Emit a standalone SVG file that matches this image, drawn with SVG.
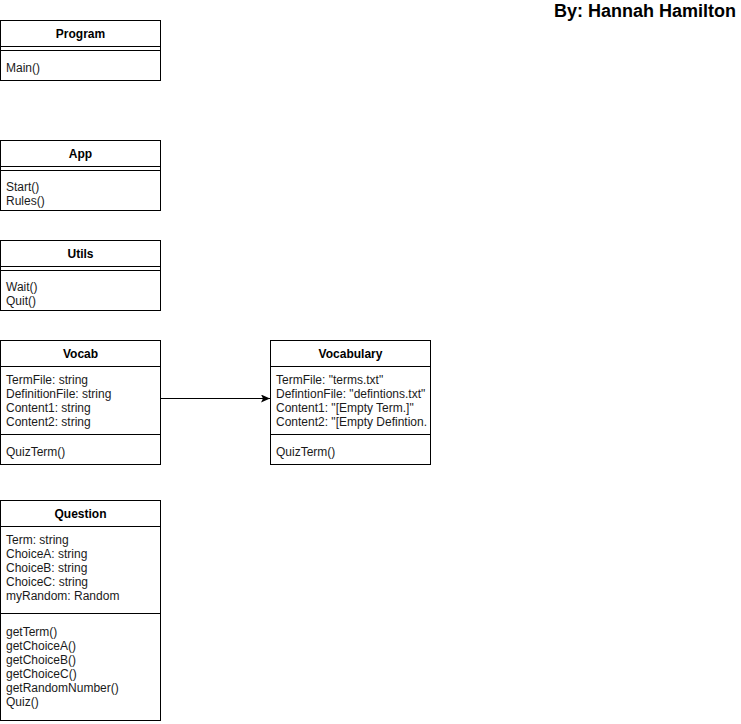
<svg xmlns="http://www.w3.org/2000/svg" width="741" height="724" viewBox="0 0 741 724">
<defs>
<style>
.box{fill:#fff;stroke:#000;stroke-width:1}
.ln{stroke:#000;stroke-width:1;fill:none}
.t{font-family:"Liberation Sans",Arial,sans-serif;font-size:12px;font-weight:bold;fill:#000;text-anchor:middle}
.m{font-family:"Liberation Sans",Arial,sans-serif;font-size:12px;fill:#1a1a1a}
.h{font-family:"Liberation Sans",Arial,sans-serif;font-size:18px;font-weight:bold;fill:#000;text-anchor:end}
</style>
<marker id="arr" markerWidth="10" markerHeight="8" refX="9" refY="4" orient="auto" markerUnits="userSpaceOnUse">
<path d="M0,0 L9,4 L0,8 L2,4 Z" fill="#000"/>
</marker>
</defs>
<rect width="741" height="724" fill="#fff"/>
<text class="h" x="736" y="17">By: Hannah Hamilton</text>

<g id="program">
<rect class="box" x="0.5" y="20.5" width="160" height="60"/>
<line class="ln" x1="0.5" y1="46.5" x2="160.5" y2="46.5"/>
<line class="ln" x1="0.5" y1="50.5" x2="160.5" y2="50.5"/>
<text class="t" x="80.5" y="38">Program</text>
<text class="m" x="6" y="72">Main()</text>
</g>

<g id="app">
<rect class="box" x="0.5" y="140.5" width="160" height="70"/>
<line class="ln" x1="0.5" y1="166.5" x2="160.5" y2="166.5"/>
<line class="ln" x1="0.5" y1="170.5" x2="160.5" y2="170.5"/>
<text class="t" x="80.5" y="158">App</text>
<text class="m" x="6" y="191">Start()</text>
<text class="m" x="6" y="205">Rules()</text>
</g>

<g id="utils">
<rect class="box" x="0.5" y="240.5" width="160" height="70"/>
<line class="ln" x1="0.5" y1="266.5" x2="160.5" y2="266.5"/>
<line class="ln" x1="0.5" y1="270.5" x2="160.5" y2="270.5"/>
<text class="t" x="80.5" y="258">Utils</text>
<text class="m" x="6" y="291">Wait()</text>
<text class="m" x="6" y="305">Quit()</text>
</g>

<g id="vocab">
<rect class="box" x="0.5" y="340.5" width="160" height="124"/>
<line class="ln" x1="0.5" y1="366.5" x2="160.5" y2="366.5"/>
<line class="ln" x1="0.5" y1="434.5" x2="160.5" y2="434.5"/>
<text class="t" x="80.5" y="358">Vocab</text>
<text class="m" x="6" y="384">TermFile: string</text>
<text class="m" x="6" y="398">DefinitionFile: string</text>
<text class="m" x="6" y="412">Content1: string</text>
<text class="m" x="6" y="426">Content2: string</text>
<text class="m" x="6" y="456">QuizTerm()</text>
</g>

<g id="vocabulary">
<rect class="box" x="270.5" y="340.5" width="160" height="124"/>
<line class="ln" x1="270.5" y1="366.5" x2="430.5" y2="366.5"/>
<line class="ln" x1="270.5" y1="434.5" x2="430.5" y2="434.5"/>
<text class="t" x="350.5" y="358">Vocabulary</text>
<text class="m" x="276" y="384">TermFile: "terms.txt"</text>
<text class="m" x="276" y="398">DefintionFile: "defintions.txt"</text>
<text class="m" x="276" y="412">Content1: "[Empty Term.]"</text>
<text class="m" x="276" y="426">Content2: "[Empty Defintion.</text>
<text class="m" x="276" y="456">QuizTerm()</text>
</g>

<g id="question">
<rect class="box" x="0.5" y="500.5" width="160" height="220"/>
<line class="ln" x1="0.5" y1="526.5" x2="160.5" y2="526.5"/>
<line class="ln" x1="0.5" y1="613.5" x2="160.5" y2="613.5"/>
<text class="t" x="80.5" y="518">Question</text>
<text class="m" x="6" y="544">Term: string</text>
<text class="m" x="6" y="558">ChoiceA: string</text>
<text class="m" x="6" y="572">ChoiceB: string</text>
<text class="m" x="6" y="586">ChoiceC: string</text>
<text class="m" x="6" y="600">myRandom: Random</text>
<text class="m" x="6" y="636">getTerm()</text>
<text class="m" x="6" y="650">getChoiceA()</text>
<text class="m" x="6" y="664">getChoiceB()</text>
<text class="m" x="6" y="678">getChoiceC()</text>
<text class="m" x="6" y="692">getRandomNumber()</text>
<text class="m" x="6" y="706">Quiz()</text>
</g>

<g id="connectors">
<line class="ln" x1="160.5" y1="398.5" x2="270" y2="398.5" marker-end="url(#arr)"/>
</g>
</svg>
